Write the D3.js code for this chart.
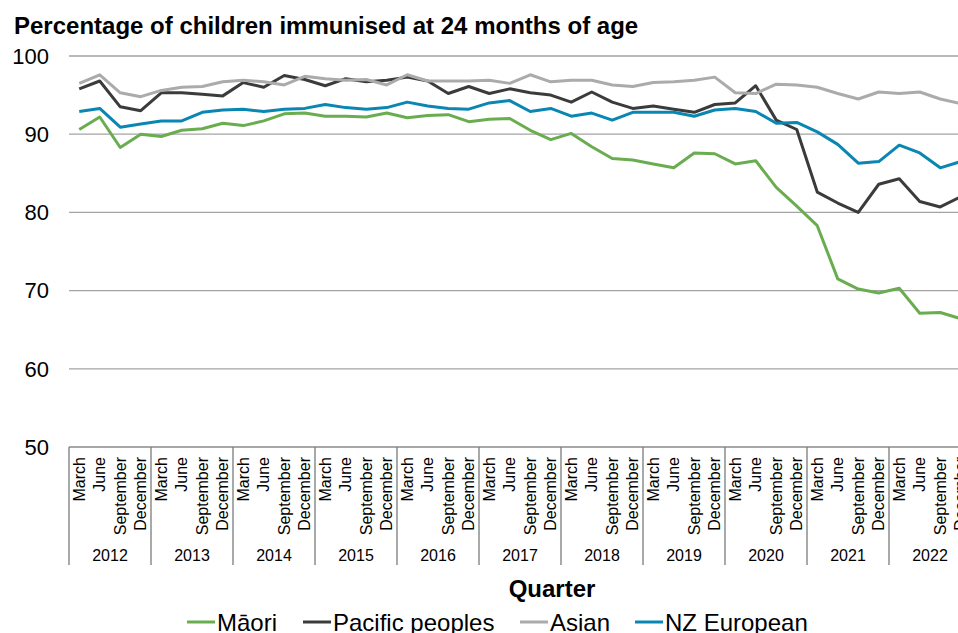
<!DOCTYPE html>
<html>
<head>
<meta charset="utf-8">
<script src="https://cdn.jsdelivr.net/npm/d3@7"></script>
<style>
  body { margin: 0; background: #fff; }
  svg { display: block; font-family: "Liberation Sans", Arial, sans-serif; }
</style>
</head>
<body>
<svg id="chart" width="958" height="633"></svg>
<script>

// Data

var years = [2012, 2013, 2014, 2015, 2016, 2017, 2018, 2019, 2020, 2021, 2022];
var months = ["March", "June", "September", "December"];
var yTicks = [50, 60, 70, 80, 90, 100];

var maori = [90.6, 92.2, 88.3, 90.0, 89.7, 90.5, 90.7, 91.4, 91.1, 91.7, 92.6, 92.7,
             92.3, 92.3, 92.2, 92.7, 92.1, 92.4, 92.5, 91.6, 91.9, 92.0, 90.5, 89.3,
             90.1, 88.4, 86.9, 86.7, 86.2, 85.7, 87.6, 87.5, 86.2, 86.6, 83.2, 80.8,
             78.3, 71.5, 70.2, 69.7, 70.3, 67.1, 67.2, 66.4];

var pacific = [95.8, 96.8, 93.5, 93.0, 95.3, 95.3, 95.1, 94.9, 96.6, 96.0, 97.5, 97.0,
               96.2, 97.1, 96.7, 96.9, 97.3, 96.8, 95.2, 96.1, 95.2, 95.8, 95.3, 95.0,
               94.1, 95.4, 94.1, 93.3, 93.6, 93.2, 92.8, 93.8, 94.0, 96.2, 91.8, 90.6,
               82.6, 81.2, 80.0, 83.6, 84.3, 81.4, 80.7, 82.0];

var asian = [96.5, 97.6, 95.3, 94.8, 95.6, 96.0, 96.1, 96.7, 96.9, 96.7, 96.3, 97.4,
             97.1, 96.9, 97.0, 96.3, 97.6, 96.8, 96.8, 96.8, 96.9, 96.5, 97.6, 96.7,
             96.9, 96.9, 96.3, 96.1, 96.6, 96.7, 96.9, 97.3, 95.3, 95.2, 96.4, 96.3,
             96.0, 95.2, 94.5, 95.4, 95.2, 95.4, 94.5, 93.9];

var nzEuropean = [92.9, 93.3, 90.9, 91.3, 91.7, 91.7, 92.8, 93.1, 93.2, 92.9, 93.2, 93.3,
                  93.8, 93.4, 93.2, 93.4, 94.1, 93.6, 93.3, 93.2, 94.0, 94.3, 92.9, 93.3,
                  92.3, 92.7, 91.8, 92.8, 92.8, 92.8, 92.3, 93.1, 93.3, 92.9, 91.4, 91.5,
                  90.3, 88.7, 86.3, 86.5, 88.6, 87.6, 85.7, 86.5];

var seriesNames = ["Māori", "Pacific peoples", "Asian", "NZ European"];
var seriesValues = [maori, pacific, asian, nzEuropean];
var seriesColors = ["#6aad50", "#3b3b3b", "#ababab", "#0a86b3"];

// SVG setup

var svg = d3.select("svg#chart"),
    margin = {left: 69, top: 56, bottom: 447};
var plotRight = 971;

var quarters = [];
years.forEach(function(y) {
  months.forEach(function(m) { quarters.push(y + "-" + m); });
});

var x = d3.scaleBand()
    .domain(quarters)
    .range([margin.left, plotRight]);

var xYear = d3.scaleBand()
    .domain(years)
    .range([margin.left, plotRight]);

var y = d3.scaleLinear()
    .domain([50, 100])
    .range([margin.bottom, margin.top]);

// Title

svg.append("text")
    .attr("x", 14)
    .attr("y", 34)
    .attr("font-size", "24px")
    .attr("font-weight", "bold")
    .attr("fill", "#000")
    .text("Percentage of children immunised at 24 months of age");

// Gridlines and y labels

svg.append("g")
  .selectAll("line")
  .data(yTicks.filter(function(d) { return d > 50; }))
  .enter().append("line")
    .attr("x1", margin.left)
    .attr("x2", plotRight)
    .attr("y1", function(d) { return y(d); })
    .attr("y2", function(d) { return y(d); })
    .attr("stroke", "#a3a3a3")
    .attr("stroke-width", 1.3);

svg.append("g")
  .selectAll("text")
  .data(yTicks)
  .enter().append("text")
    .attr("x", 49)
    .attr("y", function(d) { return y(d); })
    .attr("dy", "0.35em")
    .attr("text-anchor", "end")
    .attr("font-size", "22px")
    .attr("fill", "#000")
    .text(function(d) { return d; });

// x axis: quarters and years

svg.append("line")
    .attr("x1", margin.left)
    .attr("x2", plotRight)
    .attr("y1", y(50))
    .attr("y2", y(50))
    .attr("stroke", "#8a8a8a")
    .attr("stroke-width", 1.3);

svg.append("g")
  .selectAll("line")
  .data(years.concat([years[years.length - 1] + 1]))
  .enter().append("line")
    .attr("x1", function(d, i) { return i < years.length ? xYear(d) : plotRight; })
    .attr("x2", function(d, i) { return i < years.length ? xYear(d) : plotRight; })
    .attr("y1", y(50))
    .attr("y2", 565)
    .attr("stroke", "#7a7a7a")
    .attr("stroke-width", 1.3);

svg.append("g")
  .selectAll("text")
  .data(quarters)
  .enter().append("text")
    .attr("transform", function(d) {
      return "translate(" + (x(d) + x.bandwidth() / 2) + "," + (y(50) + 10) + ") rotate(-90)";
    })
    .attr("dy", "0.35em")
    .attr("text-anchor", "end")
    .attr("font-size", "16px")
    .attr("fill", "#000")
    .text(function(d) { return d.split("-")[1]; });

svg.append("g")
  .selectAll("text")
  .data(years)
  .enter().append("text")
    .attr("x", function(d) { return xYear(d) + xYear.bandwidth() / 2; })
    .attr("y", 561)
    .attr("text-anchor", "middle")
    .attr("font-size", "16px")
    .attr("fill", "#000")
    .text(function(d) { return d; });

svg.append("text")
    .attr("x", 552)
    .attr("y", 597)
    .attr("text-anchor", "middle")
    .attr("font-size", "24px")
    .attr("font-weight", "bold")
    .attr("fill", "#000")
    .text("Quarter");

// Lines

var line = d3.line()
    .x(function(d, i) { return x(quarters[i]) + x.bandwidth() / 2; })
    .y(function(d) { return y(d); });

svg.append("g")
  .selectAll("path")
  .data(seriesValues)
  .enter().append("path")
    .attr("d", line)
    .attr("fill", "none")
    .attr("stroke", function(d, i) { return seriesColors[i]; })
    .attr("stroke-width", 3)
    .attr("stroke-linejoin", "round");

// Legend

var legendX = [187, 303, 520, 635];

var legend = svg.append("g")
  .selectAll("g")
  .data(seriesNames)
  .enter().append("g")
    .attr("transform", function(d, i) { return "translate(" + legendX[i] + ",631)"; });

legend.append("line")
    .attr("x1", 0)
    .attr("x2", 28)
    .attr("y1", -9)
    .attr("y2", -9)
    .attr("stroke", function(d, i) { return seriesColors[i]; })
    .attr("stroke-width", 3);

legend.append("text")
    .attr("x", 30)
    .attr("font-size", "24px")
    .attr("fill", "#000")
    .text(function(d) { return d; });

</script>
</body>
</html>
